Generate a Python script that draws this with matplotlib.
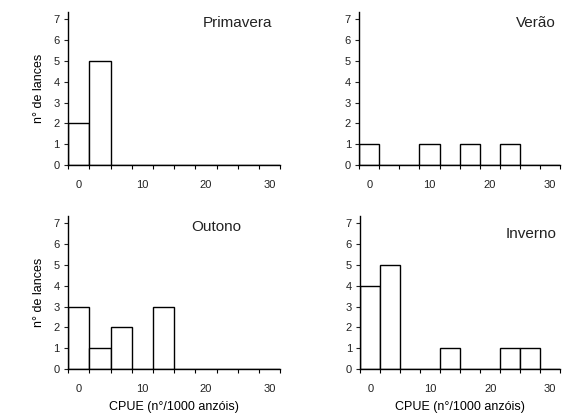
import numpy as np
import matplotlib
matplotlib.use("Agg")
import matplotlib.pyplot as plt

plt.rcParams["font.family"] = ["Liberation Sans", "DejaVu Sans"]

# CPUE classes (n°/1000 anzóis), one bar per class
bin_width = 10 / 3
n_bins = 10
class_centers = np.arange(n_bins) * bin_width

seasons = ["Primavera", "Verão", "Outono", "Inverno"]
primavera = [2, 5, 0, 0, 0, 0, 0, 0, 0, 0]
verao = [1, 0, 0, 1, 0, 1, 0, 1, 0, 0]
outono = [3, 1, 2, 0, 3, 0, 0, 0, 0, 0]
inverno = [4, 5, 0, 0, 1, 0, 0, 1, 1, 0]
counts = [primavera, verao, outono, inverno]

x_labels = [0, 10, 20, 30]
y_ticks = list(range(8))

# axes boxes in figure fraction [left, bottom, width, height]
boxes = [
    [0.121, 0.605, 0.377, 0.366],
    [0.638, 0.605, 0.357, 0.366],
    [0.121, 0.117, 0.377, 0.366],
    [0.640, 0.117, 0.355, 0.366],
]
title_pos = [(0.96, 0.93, "right"), (0.98, 0.93, "right"),
             (0.58, 0.93, "left"), (0.98, 0.88, "right")]

fig = plt.figure(figsize=(5.63, 4.18), dpi=100)

for i, (season, vals) in enumerate(zip(seasons, counts)):
    ax = fig.add_axes(boxes[i])
    ax.bar(class_centers, vals, width=bin_width, color="white",
           edgecolor="black", linewidth=1.0)
    ax.set_xlim(-bin_width / 2, class_centers[-1] + bin_width / 2)
    ax.set_ylim(0, 7.35)

    for side in ["top", "right"]:
        ax.spines[side].set_visible(False)
    for side in ["left", "bottom"]:
        ax.spines[side].set_linewidth(1.0)

    ax.set_yticks(y_ticks)
    ax.tick_params(axis="y", direction="out", length=3, width=0.8,
                   labelsize=8, pad=3, colors="#222222")

    ax.set_xticks(x_labels)
    ax.set_xticks(np.arange(n_bins + 1) * bin_width - bin_width / 2, minor=True)
    ax.tick_params(axis="x", which="major", length=0, pad=11,
                   labelsize=8, labelcolor="#222222")
    ax.tick_params(axis="x", which="minor", direction="out", length=3,
                   width=0.8)

    tx, ty, ha = title_pos[i]
    ax.text(tx, ty, season, transform=ax.transAxes, ha=ha, va="center",
            fontsize=11, color="#222222")

    if i % 2 == 0:
        ax.set_ylabel("n° de lances", fontsize=9, labelpad=6)
    if i >= 2:
        ax.set_xlabel("CPUE (n°/1000 anzóis)", fontsize=9, labelpad=5)

fig.savefig("out.png", dpi=100)
